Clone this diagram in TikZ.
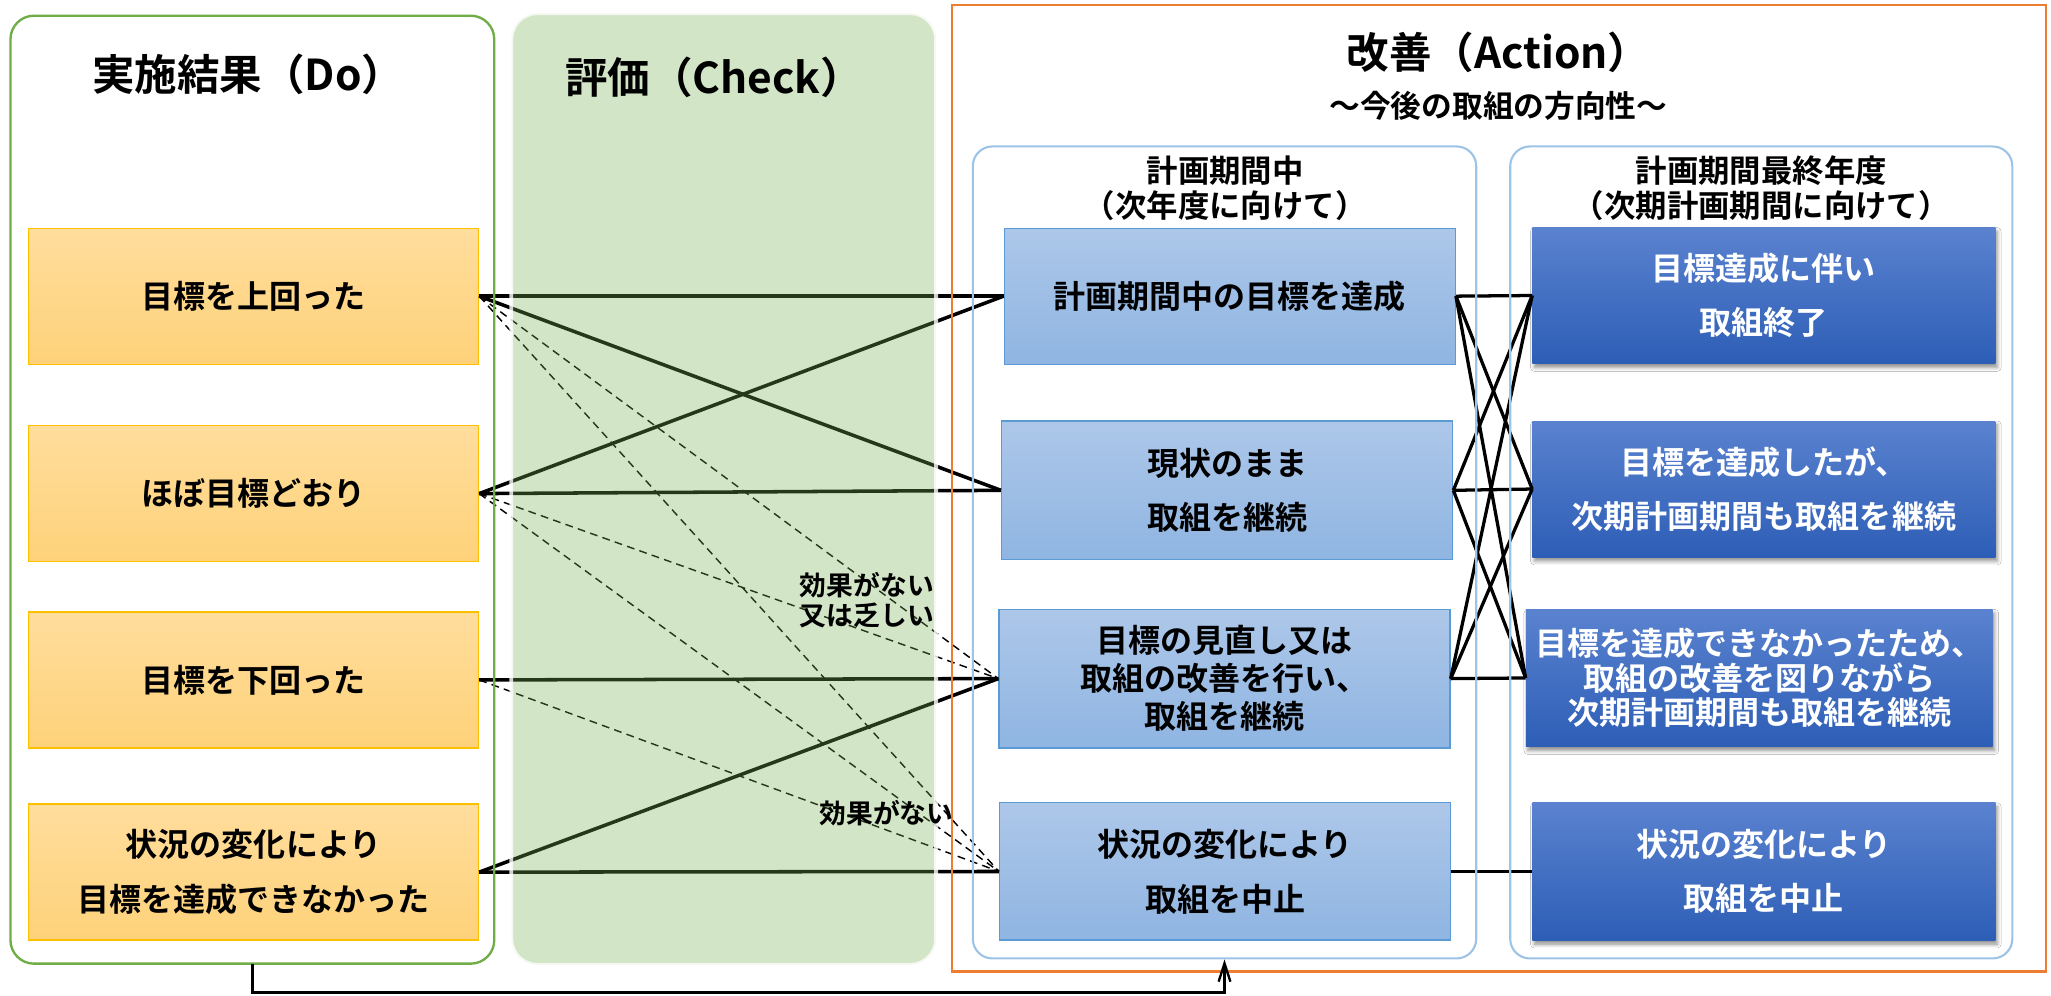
\documentclass[tikz,border=0pt]{standalone}
\usepackage{fontspec}
\setmainfont{Noto Sans CJK JP}[BoldFont={Noto Sans CJK JP Bold}]
\usetikzlibrary{shadows.blur,arrows.meta}
\definecolor{dogreen}{RGB}{112,173,71}
\definecolor{chkfill}{RGB}{121,177,83}
\definecolor{actorange}{RGB}{237,125,49}
\definecolor{innerblue}{RGB}{157,195,230}
\definecolor{dotop}{RGB}{255,221,156}
\definecolor{dobot}{RGB}{254,210,122}
\definecolor{doborder}{RGB}{255,192,0}
\definecolor{midtop}{RGB}{173,199,233}
\definecolor{midbot}{RGB}{143,181,226}
\definecolor{midborder}{RGB}{91,155,213}
\definecolor{rtop}{RGB}{90,130,207}
\definecolor{rbot}{RGB}{45,94,182}
\begin{document}
\begin{tikzpicture}[x=1pt,y=-1pt,
  panel/.style={rounded corners=18pt, inner sep=0pt},
  dobox/.style={draw=doborder, line width=1pt, top color=dotop, bottom color=dobot,
    minimum width=344pt, minimum height=104pt, align=center, inner sep=0pt,
    font=\bfseries\fontsize{24.5}{42}\selectfont},
  midbox/.style={draw=midborder, line width=1pt, top color=midtop, bottom color=midbot,
    minimum width=345pt, minimum height=104pt, align=center, inner sep=0pt,
    font=\bfseries\fontsize{24.5}{42}\selectfont},
  rbox/.style={top color=rtop, bottom color=rbot, text=white,
    minimum width=354pt, minimum height=104pt, align=center, inner sep=0pt,
    font=\bfseries\fontsize{24.5}{41}\selectfont,
    blur shadow={shadow xshift=1.5pt, shadow yshift=-3pt, shadow blur radius=3pt, shadow opacity=45}},
  thickline/.style={line width=2.7pt, black},
  crossline/.style={line width=2.5pt, black},
  dashline/.style={line width=1.1pt, black, dash pattern=on 6pt off 4pt},
  titletext/.style={font=\bfseries\fontsize{32.5}{36}\selectfont},
  headtext/.style={align=center, font=\bfseries\fontsize{24}{27}\selectfont},
  lbl/.style={align=center, inner sep=0pt, font=\bfseries\fontsize{20.5}{23}\selectfont}
]
\useasboundingbox (0,0) rectangle (1568.6,761);
\fill[white] (0,0) rectangle (1568.6,761);

% panels (background parts)
\node[panel, fill=white, minimum width=370pt, minimum height=725pt] (dopanel) at (193,374.5) {};
\coordinate (actc) at (1146.5,373.5);

% Do boxes
\node[dobox] (d1) at (194,226.5) {目標を上回った};
\node[dobox] (d2) at (194,377.5) {ほぼ目標どおり};
\node[dobox] (d3) at (194,520) {目標を下回った};
\node[dobox] (d4) at (194,667) {状況の変化により\\目標を達成できなかった};

% middle boxes
\node[midbox] (m1) at (940.5,226.5) {計画期間中の目標を達成};
\node[midbox, minimum height=106pt] (m2) at (938.5,375) {現状のまま\\取組を継続};
\node[midbox, minimum height=106pt, font=\bfseries\fontsize{24.5}{29}\selectfont] (m3) at (936.5,519) {目標の見直し又は\\取組の改善を行い、\\取組を継続};
\node[midbox, minimum height=105pt] (m4) at (937,666.5) {状況の変化により\\取組を中止};

% right boxes
\node[rbox] (r1) at (1349,226) {目標達成に伴い\\取組終了};
\node[rbox] (r2) at (1349,374) {目標を達成したが、\\次期計画期間も取組を継続};
\node[rbox, minimum width=357pt, minimum height=105pt, font=\bfseries\fontsize{24.5}{26.5}\selectfont] (r3) at (1345.5,518.5) {目標を達成できなかったため、\\取組の改善を図りながら\\次期計画期間も取組を継続};
\node[rbox, minimum height=105pt] (r4) at (1349,666.5) {状況の変化により\\取組を中止};

% connectors Do -> middle
\draw[thickline] (d1.east) -- (m1.west);
\draw[thickline] (d1.east) -- (m2.west);
\draw[thickline] (d2.east) -- (m1.west);
\draw[thickline] (d2.east) -- (m2.west);
\draw[thickline] (d3.east) -- (m3.west);
\draw[thickline] (d4.east) -- (m3.west);
\draw[thickline] (d4.east) -- (m4.west);
\draw[dashline] (d1.east) -- (m3.west);
\draw[dashline] (d1.east) -- (m4.west);
\draw[dashline] (d2.east) -- (m3.west);
\draw[dashline] (d2.east) -- (m4.west);
\draw[dashline] (d3.east) -- (m4.west);

% connectors middle -> right
\foreach \a in {1,2,3}{
  \foreach \b in {1,2,3}{
    \draw[crossline] (m\a.east) -- (r\b.west);
  }
}
\draw[thickline] (m4.east) -- (r4.west);

% check panel overlay
\node[panel, rounded corners=20pt, fill=chkfill, fill opacity=0.32, draw=white, draw opacity=0.8, line width=3pt,
  minimum width=325pt, minimum height=728pt] (chk) at (553.5,374) {};

% panel borders on top
\node[panel, draw=dogreen, line width=1.8pt, minimum width=370pt, minimum height=725pt] at (dopanel) {};
\node[draw=actorange, line width=1.8pt, inner sep=0pt, minimum width=837pt, minimum height=739pt] (act) at (actc) {};
\node[panel, rounded corners=15pt, draw=innerblue, line width=1.6pt, minimum width=385pt, minimum height=621pt] (in1) at (936.5,422.5) {};
\node[panel, rounded corners=15pt, draw=innerblue, line width=1.6pt, minimum width=384pt, minimum height=621pt] (in2) at (1347,422.5) {};

% titles
\node[titletext] (tdo) at (190,57) {実施結果（Do）};
\node[titletext] (tchk) at (546,59) {評価（Check）};
\node[titletext] (tact) at (1146,40) {改善（Action）};
\node[font=\bfseries\fontsize{23.5}{26}\selectfont] (tsub) at (1146,81) {～今後の取組の方向性～};
\node[headtext] (h1) at (937,144) {計画期間中\\（次年度に向けて）};
\node[headtext] (h2) at (1347,144) {計画期間最終年度\\（次期計画期間に向けて）};

% labels
\node[lbl] (l1) at (663,459) {効果がない\\又は乏しい};
\node[lbl] (l2) at (678,622) {効果がない};

% feedback arrow
\draw[line width=2pt, -{Straight Barb[length=14pt,width=9pt,line width=1.8pt]}]
  (dopanel.south) -- ++(0,22) -| (in1.south);
\end{tikzpicture}
\end{document}
